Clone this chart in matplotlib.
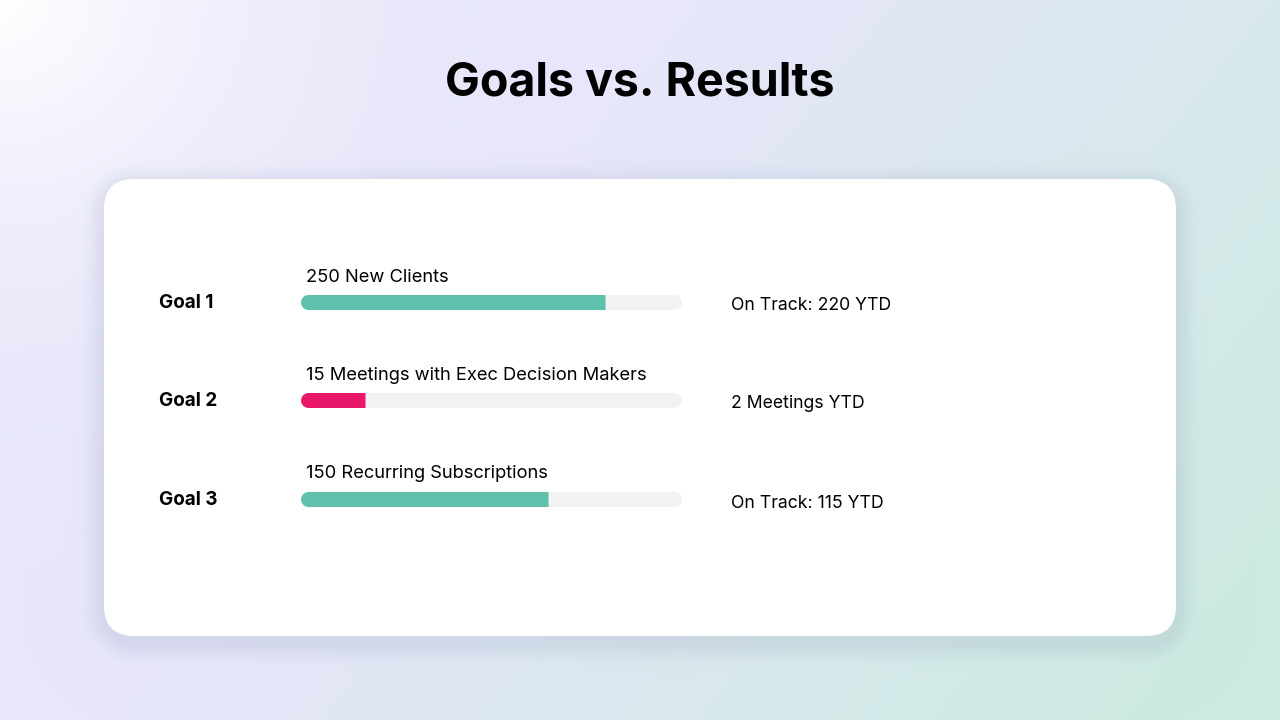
import numpy as np
import matplotlib
matplotlib.use("Agg")
import matplotlib.pyplot as plt
from matplotlib.colors import to_rgb
from matplotlib.patches import FancyBboxPatch

# chart content
title = "Goals vs. Results"
goal_names = ["Goal 1", "Goal 2", "Goal 3"]
goal_targets = ["250 New Clients", "15 Meetings with Exec Decision Makers", "150 Recurring Subscriptions"]
goal_results = ["On Track: 220 YTD", "2 Meetings YTD", "On Track: 115 YTD"]
progress = [0.80, 0.17, 0.65]          # filled share of each bar
bar_colors = ["#5fc1ad", "#e8176a", "#5fc1ad"]

W, H = 1280, 720
fig = plt.figure(figsize=(W / 100, H / 100), dpi=100)
ax = fig.add_axes([0, 0, 1, 1])
ax.set_xlim(0, W)
ax.set_ylim(H, 0)
ax.axis("off")

# background gradient: lavender -> mint, white glow in the top left
yy, xx = np.mgrid[0:H, 0:W].astype(float)
lav = np.array(to_rgb("#e7e6fa"))
mint = np.array(to_rgb("#cdeae2"))
t = np.clip((xx + 0.8 * yy - 700) / 1000, 0, 1)[..., None]
img = lav * (1 - t) + mint * t
glow = np.clip(1 - np.hypot(xx, yy * 1.1) / 620, 0, 1)[..., None] ** 2.2
img = img * (1 - glow) + glow

# card shadow (soft, slightly below the card)
cx0, cy0, cx1, cy1, rad = 104, 179, 1176, 636, 30
ccx, ccy = (cx0 + cx1) / 2, (cy0 + cy1) / 2 + 6
bx, by = (cx1 - cx0) / 2 - rad, (cy1 - cy0) / 2 - rad
qx = np.abs(xx - ccx) - bx
qy = np.abs(yy - ccy) - by
d = np.hypot(np.maximum(qx, 0), np.maximum(qy, 0)) + np.minimum(np.maximum(qx, qy), 0) - rad
sh = 0.2 * np.exp(-(np.maximum(d, 0) / 14) ** 2)[..., None]
img = img * (1 - sh) + np.array(to_rgb("#8f9cb8")) * sh
ax.imshow(img, extent=[0, W, H, 0], zorder=0, interpolation="bilinear")

card = FancyBboxPatch((cx0 + rad, cy0 + rad), cx1 - cx0 - 2 * rad, cy1 - cy0 - 2 * rad,
                      boxstyle=f"round,pad={rad}", fc="white", ec="none", zorder=1)
ax.add_patch(card)

ax.text(W / 2, 84, title, ha="center", va="center", fontsize=33.5, fontweight="bold",
        family="Inter", color="black", zorder=3)

bar_x0, bar_x1, bar_h = 300, 681, 15
row_y = [302, 400, 499]
px2pt = 72 / 100
for i, y in enumerate(row_y):
    ax.text(159, y + 1, goal_names[i], ha="left", va="center", fontsize=13.6, fontweight="bold",
            family="Inter", zorder=3)
    ax.text(306, y - 25, goal_targets[i], ha="left", va="center", fontsize=13.2,
            family="Inter", zorder=3)
    ax.text(731, y + 4, goal_results[i], ha="left", va="center", fontsize=12.7,
            family="Inter", zorder=3)
    r = bar_h / 2
    # track
    ax.plot([bar_x0 + r, bar_x1 - r], [y, y], color="#f2f2f2", lw=bar_h * px2pt,
            solid_capstyle="round", zorder=2)
    # filled part: round on the left, flat on the right
    x_end = bar_x0 + progress[i] * (bar_x1 - bar_x0)
    ax.plot([bar_x0 + r, x_end - r], [y, y], color=bar_colors[i], lw=bar_h * px2pt,
            solid_capstyle="round", zorder=2.5)
    ax.plot([bar_x0 + r, x_end], [y, y], color=bar_colors[i], lw=bar_h * px2pt,
            solid_capstyle="butt", zorder=2.5)

fig.savefig("out.png", dpi=100)
